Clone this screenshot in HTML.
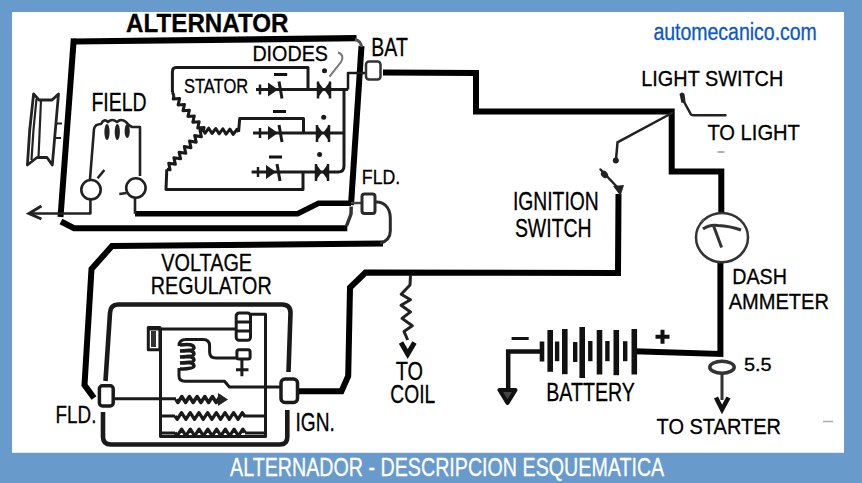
<!DOCTYPE html>
<html><head><meta charset="utf-8">
<style>
html,body{margin:0;padding:0;background:#689acb;}
svg{display:block;font-family:"Liberation Sans", sans-serif;}
</style></head>
<body>
<svg width="862" height="483" viewBox="0 0 862 483">
<rect x="0" y="0" width="862" height="483" fill="#689acb"/>
<rect x="12" y="12" width="832" height="440.8" fill="#fff"/>
<g fill="none" stroke="#000" stroke-width="6" stroke-linejoin="miter">
<path d="M73.6,41.5 L356.5,38.2" stroke-width="6.2"/>
<path d="M361.5,46 L351,205" stroke-width="6"/>
<path d="M73.8,38.5 L60.5,217" stroke-width="6"/>
<path d="M61,221.5 L74,228.2 L347.3,228.2" stroke-width="6"/>
<path d="M135,213.7 L297.6,213.7 L318.5,203.3 L351,203.3" stroke-width="5.6"/>
<path d="M383,243.5 L112,246 L91.5,269 L84.5,385 L94,398"/>
<path d="M383,72.5 L476,73 L476,111.5 L671.7,111.5 L671.7,171.5 L721.3,171.5 L721.3,213"/>
<path d="M720.4,262 L720.4,354 L634,351.3"/>
<path d="M618.5,194 L618,273 L365.5,272.5 L350,287.5 L348.2,376 L341.5,391.3 L297,391.3"/>
</g>
<g fill="none"><path d="M351.2,206.5 L351,214 L346.5,226" stroke-width="3.5" stroke="#333"/>
<path d="M375,202 C383,201 390.3,207 390.3,218 L390.3,231 C390.3,237 386,241.5 380,243.5" stroke-width="3" stroke="#2a2a2a"/>
<path d="M351,203 L361,203" stroke-width="2.5" stroke="#444"/>
<path d="M355,39.5 Q360.5,40.5 361.8,47" stroke-width="3" stroke="#555"/></g>

<g fill="none" stroke="#222" stroke-width="2.8" stroke-linejoin="round">
<path d="M33.6,94 L39,100 L52,100 L58.5,94 L52.3,165 L47,157.5 L37,157.5 L27.4,165 Q29,130 33.6,94 Z"/>
<path d="M41,100 L38.5,157.5 M36.5,99 Q33,130 31.5,160" stroke-width="2.2"/>
<path d="M55,123.5 L62,123.5 M54,138 L61,138" stroke-width="2"/>
</g>


<g fill="none" stroke="#222" stroke-width="2.6" stroke-linejoin="round">
<path d="M90,179 L94,129 Q95,124 101,124 Q104,118 108,122 Q112,118 117,122 Q121,118 126,122 Q128,125 132,127 L140,127 L140,176"/>
<circle cx="91" cy="189.7" r="9.7"/>
<circle cx="135.9" cy="188" r="9.7"/>
<path d="M97.6,178.3 L104.4,170 M119.3,194 L126.6,193"/>
<path d="M90.4,200 L90.4,213.5 L32,213.5"/>
<path d="M135,198 L135,213.8"/>
</g>
<g fill="#222"><ellipse cx="107" cy="132" rx="2.6" ry="8"/><ellipse cx="117.3" cy="132" rx="2.6" ry="8"/><ellipse cx="127.2" cy="131" rx="2.6" ry="7"/></g>
<path d="M41.4,206 L29,213.5 L41.4,219" fill="none" stroke="#222" stroke-width="3"/>


<g fill="none" stroke="#1a1a1a" stroke-width="3" stroke-linejoin="round">
<path d="M308,89.5 L308,67.5 L176,67.5 Q172.4,67.5 172.4,72 L172.4,92"/>
<path d="M172.4,92 L174,96"/><path d="M174.0,96.0 L173.2,99.1 L179.6,98.6 L178.1,104.9 L184.5,104.4 L183.0,110.7 L189.4,110.2 L187.9,116.4 L194.3,115.9 L192.8,122.2 L199.2,121.7 L197.7,128.0 L204.1,127.5 L203.3,130.6"/>
<path d="M203.3,130.6 L205.0,133.3 L208.7,128.2 L212.0,133.5 L215.8,128.5 L219.1,133.8 L222.8,128.8 L226.1,134.1 L229.9,129.1 L233.2,134.4 L236.9,129.3 L238.6,132.0"/>
<path d="M238.6,132 L239.7,118.5 L303.5,118.5 L303.5,133"/>
<path d="M203.3,130.6 L200.0,130.1 L201.4,136.7 L194.7,135.6 L196.2,142.2 L189.5,141.1 L191.0,147.7 L184.3,146.6 L185.8,153.3 L179.1,152.2 L180.6,158.8 L173.9,157.7 L175.4,164.3 L168.7,163.2 L170.1,169.8 L166.8,169.3"/>
<path d="M166.8,169.3 L166,189.5 L303,189.5 L303,172"/>
<path d="M256,89.5 L348,89.5 M253,133 L344,133 M251.6,172 L338,172 Q344,172 344,166 L344,89.5" />
<path d="M348,89.5 L348,73 L366,73" stroke-width="2.5"/>
</g>

<path d="M268,82.5 L268,96.5 L278,89.5 Z" fill="#1a1a1a"/><path d="M279,81.5 L282,98.5" stroke="#1a1a1a" stroke-width="3"/><path d="M260,84.5 L260,94.5" stroke="#1a1a1a" stroke-width="2.5"/><path d="M318,81.5 L318,97.5 L324,89.5 Z M330,81.5 L330,97.5 L324,89.5 Z" fill="#1a1a1a"/><path d="M318,81.5 L318,98.5 M330,81.5 L330,98.5" stroke="#1a1a1a" stroke-width="2.5"/><path d="M268,126 L268,140 L278,133 Z" fill="#1a1a1a"/><path d="M279,125 L282,142" stroke="#1a1a1a" stroke-width="3"/><path d="M260,128 L260,138" stroke="#1a1a1a" stroke-width="2.5"/><path d="M317,125 L317,141 L323,133 Z M329,125 L329,141 L323,133 Z" fill="#1a1a1a"/><path d="M317,125 L317,142 M329,125 L329,142" stroke="#1a1a1a" stroke-width="2.5"/><path d="M266,165 L266,179 L276,172 Z" fill="#1a1a1a"/><path d="M277,164 L280,181" stroke="#1a1a1a" stroke-width="3"/><path d="M258,167 L258,177" stroke="#1a1a1a" stroke-width="2.5"/><path d="M316,164 L316,180 L322,172 Z M328,164 L328,180 L322,172 Z" fill="#1a1a1a"/><path d="M316,164 L316,181 M328,164 L328,181" stroke="#1a1a1a" stroke-width="2.5"/>
<g stroke="#111" stroke-width="3" fill="none">
<path d="M274,74.6 L287.2,74.6 M273,111.4 L286,111.4 M269,157 L282,157"/>
</g>
<circle cx="324.5" cy="70.8" r="2.5" fill="#1a1a1a"/>
<circle cx="323.7" cy="117.2" r="2.5" fill="#1a1a1a"/>
<circle cx="319.6" cy="154.6" r="2.5" fill="#1a1a1a"/>
<path d="M338,52.5 Q345,55 341,62 L329.5,76.6" stroke="#777" stroke-width="2" fill="none"/>


<g fill="none" stroke="#222" stroke-width="2.5" stroke-linecap="round">
<path d="M672,113 L617.5,142.3 L616,160"/>
<path d="M600.5,169.5 L619,189"/>
<path d="M683,100 L691,114.5 Q692,115.3 694,115.3 L725.5,115.3"/>
</g>
<circle cx="615.8" cy="160.4" r="3" fill="#222"/>
<ellipse cx="604.5" cy="174.5" rx="3.2" ry="4" transform="rotate(-40 604.5 174.5)" fill="#222"/>
<path d="M613,186 L624,185 L620.5,196 Z" fill="#222"/>
<path d="M679.5,94 Q682,91 684.5,94 L685.5,102 L681.5,103 Z" fill="#222"/>


<g fill="none" stroke="#333" stroke-width="2.5">
<ellipse cx="722" cy="237.6" rx="26" ry="24.6"/>
<path d="M703,229 Q710,224 718,225.5 Q730,226 741,230" stroke-width="3"/>
<path d="M713.8,226.5 L721.6,247.4" stroke-width="3"/>
<path d="M701,222 L704,219" stroke="#555" stroke-width="2"/>
</g>

<g stroke="#111" stroke-width="5.5" fill="none"><path d="M542,341.5 L542,361.5" stroke-width="4.6"/><path d="M550.2,330 L550.2,371.8" stroke-width="5.6"/><path d="M557.1,341.5 L557.1,361.2" stroke-width="4.4"/><path d="M564.8,329 L564.8,374.2" stroke-width="5.6"/><path d="M575.2,342 L575.2,362" stroke-width="4.4"/><path d="M582.2,327 L582.2,378" stroke-width="5.6"/><path d="M590.3,341 L590.3,361.2" stroke-width="4.4"/><path d="M599.5,330 L599.5,374.5" stroke-width="5.6"/><path d="M607.4,341 L607.4,361.2" stroke-width="4.4"/><path d="M616.3,330 L616.3,375.2" stroke-width="5.6"/><path d="M625.2,341.2 L625.2,361.2" stroke-width="4.4"/><path d="M634.3,329 L634.3,374.5" stroke-width="5.6"/></g>
<g stroke="#111" stroke-width="4.5" fill="none">
<path d="M540,351.5 L508.2,351.5 L508.2,390"/>
</g>
<path d="M499.5,390 L515.5,390 L507.5,403 Z" fill="#444" stroke="#111" stroke-width="4" stroke-linejoin="round"/>
<path d="M511.6,338.5 L528.7,338.5" stroke="#111" stroke-width="3"/>
<path d="M655.5,336.7 L669.5,336.7 M662.5,329.7 L662.5,343.7" stroke="#111" stroke-width="4"/>
<ellipse cx="722" cy="367.2" rx="12.2" ry="6" fill="none" stroke="#333" stroke-width="3.5"/>
<path d="M722,373 L722,400" stroke="#333" stroke-width="3"/>
<path d="M716,397.5 L722,409.5 L728.5,397.5" fill="none" stroke="#111" stroke-width="4.5"/>


<path d="M410.5,275 L410,285 L401.2,294.2 L410.5,299.8 L401,305.3 L410.5,311.9 L402,318.4 L412.3,325.8 L404,331.4 L407.7,340" fill="none" stroke="#222" stroke-width="3" stroke-linejoin="round"/>
<path d="M401,342.5 L407.7,354 L414.5,342.5" fill="none" stroke="#111" stroke-width="5" stroke-linejoin="miter"/>


<g fill="none" stroke="#1a1a1a" stroke-width="4.6" stroke-linejoin="round">
<path d="M105.5,381 L110,313 Q110.5,304.5 118,304.5 L282,304.5 Q290.5,304.5 290.5,313 L288.5,372"/>
<path d="M103,412 L103,437 Q103,444.5 111,444.5 L280,444.5 Q287.3,444.5 287.3,437 L287.3,410"/>
</g>
<g fill="none" stroke="#1a1a1a" stroke-width="3" stroke-linejoin="round">
<path d="M113,398.8 L176,398.8"/>
<path d="M160.5,329.5 L160.5,436.5 L265.5,436.5 L265.5,314.2 L250.5,314.2"/>
<path d="M148.3,329.1 L236.2,329.1"/>
<path d="M148.3,327.5 L159.9,327.5 L159.9,349.8 L148.3,349.8 Z"/>
<rect x="236.2" y="313" width="14.3" height="27.3" rx="3"/>
<path d="M237,322 L250,322 M237,331 L250,331"/>
<path d="M179,346 Q179,339.5 186,339.5 L203,339.5 Q209.6,339.5 209.6,346 L209.6,352 Q209.6,358 216,358 L237,358"/>
<rect x="236.9" y="349.8" width="13.2" height="9.1" rx="2"/>
<path d="M241.9,359 L241.9,376.3 M236,369.7 L248.5,369.7"/>
<path d="M179,368 L179,376 Q179,381.3 185,381.3 L224.5,381.3 L229.4,387 L281,387"/>
<path d="M265.5,416 L243,416 M175,416 L160.5,416 M245,433 L265.5,433 M175,433 L160.5,433"/>
<path d="M175.0,416.0 L177.2,419.3 L181.5,412.7 L185.9,419.3 L190.2,412.7 L194.5,419.3 L198.9,412.7 L203.2,419.3 L207.6,412.7 L211.9,419.3 L216.3,412.7 L220.6,419.3 L225.0,412.7 L229.3,419.3 L233.6,412.7 L238.0,419.3 L242.3,412.7 L244.5,416.0" stroke-width="3.3"/>
<path d="M175.0,432.5 L177.2,435.8 L181.6,429.2 L185.9,435.8 L190.3,429.2 L194.7,435.8 L199.1,429.2 L203.4,435.8 L207.8,429.2 L212.2,435.8 L216.6,429.2 L220.9,435.8 L225.3,429.2 L229.7,435.8 L234.1,429.2 L238.4,435.8 L242.8,429.2 L245.0,432.5" stroke-width="3.3"/>
<path d="M176.0,399.5 L177.9,402.5 L181.8,396.5 L185.6,402.5 L189.4,396.5 L193.2,402.5 L197.1,396.5 L200.9,402.5 L204.8,396.5 L208.6,402.5 L212.4,396.5 L216.2,402.5 L220.1,396.5 L222.0,399.5" stroke-width="3.5"/>
</g>
<path d="M151,331 L156,331 L156,347 L151,347 Z" fill="#333"/>
<path d="M218,393 L228,399.5 L218,406 Z" fill="#222"/>
<g fill="none" stroke="#1a1a1a" stroke-width="3.4"><path d="M180,345 q14,-2 14,3 q0,3 -14,3 M180,351 q14,-2 14,3 q0,3 -14,3 M180,357 q14,-2 14,3 q0,3 -14,3 M180,363 q14,-2 14,3 q0,3 -14,3"/></g>


<rect x="366" y="61.5" width="14.5" height="18" rx="3" fill="#fff" stroke="#333" stroke-width="2.5"/>
<rect x="362" y="194" width="13" height="19.5" rx="2.5" fill="#fff" stroke="#2a2a2a" stroke-width="3"/>
<rect x="99.4" y="385.8" width="13.8" height="20.2" rx="3" fill="#fff" stroke="#1a1a1a" stroke-width="3.5"/>
<rect x="281" y="379" width="16.5" height="23.5" rx="4" fill="#fff" stroke="#1a1a1a" stroke-width="3.5"/>

<path d="M823,421.5 L833,421.5" stroke="#aaa" stroke-width="1.5"/>
<path d="M717.5,152 L724.5,152" stroke="#999" stroke-width="1.5"/>
<text transform="translate(126.1,31.7) scale(0.95,1)" font-size="25.45" font-weight="bold" fill="#000" stroke="#000" stroke-width="0.3">ALTERNATOR</text><text transform="translate(371.3,55.7) scale(0.785,1)" font-size="24.87" font-weight="normal" fill="#000" stroke="#000" stroke-width="0.3">BAT</text><text transform="translate(641.3,86) scale(0.911,1)" font-size="21.82" font-weight="normal" fill="#000" stroke="#000" stroke-width="0.3">LIGHT SWITCH</text><text transform="translate(707.4,140) scale(0.936,1)" font-size="21.53" font-weight="normal" fill="#000" stroke="#000" stroke-width="0.3">TO LIGHT</text><text transform="translate(732.2,284.2) scale(0.898,1)" font-size="21.96" font-weight="normal" fill="#000" stroke="#000" stroke-width="0.3">DASH</text><text transform="translate(728.7,309.3) scale(0.902,1)" font-size="22.25" font-weight="normal" fill="#000" stroke="#000" stroke-width="0.3">AMMETER</text><text transform="translate(546.3,400.6) scale(0.775,1)" font-size="25.31" font-weight="normal" fill="#000" stroke="#000" stroke-width="0.3">BATTERY</text><text transform="translate(744.0,370.5) scale(1.054,1)" font-size="18.91" font-weight="normal" fill="#000" stroke="#000" stroke-width="0.3">5.5</text><text transform="translate(656.6,433.9) scale(0.941,1)" font-size="21.24" font-weight="normal" fill="#000" stroke="#000" stroke-width="0.3">TO STARTER</text><text transform="translate(512.9,209.8) scale(0.768,1)" font-size="25.16" font-weight="normal" fill="#000" stroke="#000" stroke-width="0.3">IGNITION</text><text transform="translate(514.9,237.2) scale(0.769,1)" font-size="25.31" font-weight="normal" fill="#000" stroke="#000" stroke-width="0.3">SWITCH</text><text transform="translate(395.7,379.8) scale(0.792,1)" font-size="25.16" font-weight="normal" fill="#000" stroke="#000" stroke-width="0.3">TO</text><text transform="translate(390.3,402.7) scale(0.76,1)" font-size="25.31" font-weight="normal" fill="#000" stroke="#000" stroke-width="0.3">COIL</text><text transform="translate(295.5,431) scale(0.743,1)" font-size="25.75" font-weight="normal" fill="#000" stroke="#000" stroke-width="0.3">IGN.</text><text transform="translate(55.6,422.6) scale(0.775,1)" font-size="24.29" font-weight="normal" fill="#000" stroke="#000" stroke-width="0.3">FLD.</text><text transform="translate(361.8,184.2) scale(0.842,1)" font-size="21.09" font-weight="normal" fill="#000" stroke="#000" stroke-width="0.3">FLD.</text><text transform="translate(161.3,271) scale(0.853,1)" font-size="23.27" font-weight="normal" fill="#000" stroke="#000" stroke-width="0.3">VOLTAGE</text><text transform="translate(150.8,293.7) scale(0.807,1)" font-size="24.44" font-weight="normal" fill="#000" stroke="#000" stroke-width="0.3">REGULATOR</text><text transform="translate(91.4,111) scale(0.774,1)" font-size="25.16" font-weight="normal" fill="#000" stroke="#000" stroke-width="0.3">FIELD</text><text transform="translate(184.0,93) scale(0.793,1)" font-size="20.8" font-weight="normal" fill="#000" stroke="#000" stroke-width="0.3">STATOR</text><text transform="translate(252.4,61) scale(0.928,1)" font-size="21.24" font-weight="normal" fill="#000" stroke="#000" stroke-width="0.3">DIODES</text><text transform="translate(653.4,39.9) scale(0.797,1)" font-size="24.45" font-weight="normal" fill="#0a57c9" stroke="#0a57c9" stroke-width="0.3">automecanico.com</text><text transform="translate(230.1,476) scale(0.786,1)" font-size="25.02" font-weight="normal" fill="#fff" stroke="#fff" stroke-width="0.3">ALTERNADOR - DESCRIPCION ESQUEMATICA</text>
</svg>
</body></html>
